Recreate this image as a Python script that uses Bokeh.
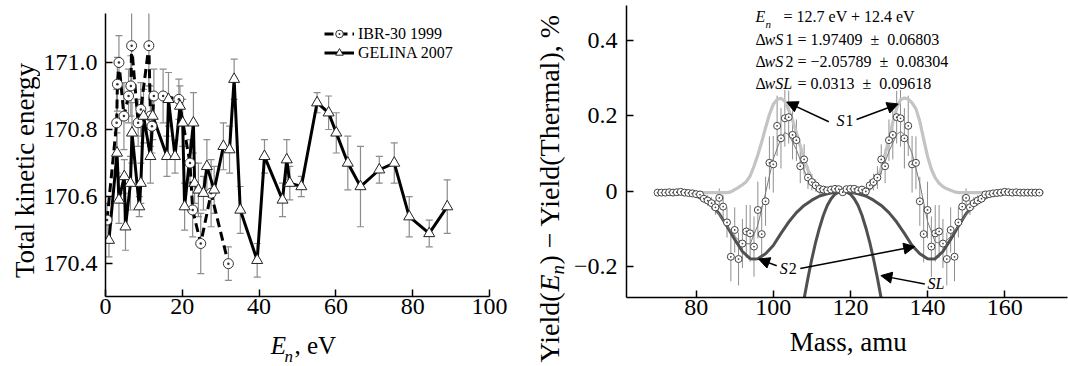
import math
from bokeh.plotting import figure
from bokeh.layouts import row, column
from bokeh.models import (Range1d, FixedTicker, NumeralTickFormatter, Label, Arrow,
                          NormalHead, Legend, LegendItem)
from bokeh.embed import file_html
from bokeh.resources import INLINE

SERIF = "Liberation Serif"

# ---------------- left panel data ----------------
ibr_e = [0.4, 2.9, 3.1, 3.5, 4.8, 6.0, 6.6, 6.8, 8.5, 9.2, 11.3, 11.7, 12.1, 12.6,
         15.0, 19.1, 22.0, 22.7, 24.8, 27.5, 32.0]
ibr_tke = [170.53, 170.82, 170.935, 171.00, 170.84, 170.90, 170.93, 171.05, 170.82, 170.86,
           171.05, 170.84, 170.81, 170.90, 170.90, 170.89, 170.70, 170.56, 170.46, 170.61, 170.40]
ibr_err = [0.05, 0.10, 0.08, 0.08, 0.10, 0.08, 0.09, 0.12, 0.07, 0.08, 0.12, 0.09, 0.08,
           0.08, 0.08, 0.06, 0.07, 0.08, 0.09, 0.10, 0.05]

gel_e = [0.9, 3.0, 3.5, 4.9, 5.2, 6.5, 6.9, 8.8, 9.2, 9.9, 11.7, 12.3, 16.0, 16.4, 18.1,
         19.4, 20.1, 20.6, 22.9, 23.2, 24.2, 25.5, 26.4, 28.3, 30.7, 32.3, 33.5, 35.1,
         39.5, 41.4, 46.1, 47.2, 48.0, 51.0, 55.1, 58.1, 60.1, 63.1, 66.4, 71.3, 75.2,
         79.1, 84.3, 89.0]
gel_tke = [170.47, 170.73, 170.59, 170.66, 170.51, 170.64, 170.79, 170.57, 170.64, 170.84,
           170.72, 170.84, 170.72, 170.89, 170.72, 170.87, 170.82, 170.57, 170.82, 170.64,
           170.62, 170.61, 170.69, 170.62, 170.75, 170.74, 170.95, 170.56, 170.41, 170.72,
           170.59, 170.71, 170.64, 170.63, 170.88, 170.85, 170.79, 170.70, 170.63, 170.68,
           170.70, 170.54, 170.49, 170.57]
gel_err = [0.05, 0.06, 0.07, 0.05, 0.07, 0.08, 0.09, 0.03, 0.06, 0.08, 0.08, 0.07, 0.06,
           0.08, 0.05, 0.06, 0.07, 0.07, 0.09, 0.06, 0.08, 0.05, 0.08, 0.07, 0.07, 0.07,
           0.06, 0.07, 0.05, 0.05, 0.05, 0.06, 0.05, 0.03, 0.03, 0.05, 0.06, 0.08, 0.12,
           0.04, 0.06, 0.06, 0.04, 0.08]

left_xticks = [0, 20, 40, 60, 80, 100]
left_yticks = [170.4, 170.6, 170.8, 171.0]

# ---------------- right panel data ----------------
mass = list(range(70, 170))
ydiff = [-0.004, -0.004, -0.004, -0.003, -0.004, -0.003, -0.002, -0.004, -0.005, -0.006,
         -0.008, -0.009, -0.020, -0.025, -0.032, -0.043, -0.018, -0.041, -0.083, -0.174,
         -0.103, -0.180, -0.139, -0.107, -0.112, -0.147, -0.050, -0.114, -0.027, 0.075,
         0.071, 0.173, 0.140, 0.193, 0.196, 0.149, 0.135, 0.066, 0.084, 0.036,
         0.024, 0.015, 0.006, 0.004, 0.002, 0.004, 0.006, 0.005, -0.003, 0.005,
         0.006, 0.006, 0.002, 0.004, -0.001, 0.015, 0.024, 0.036, 0.084, 0.066,
         0.135, 0.149, 0.196, 0.193, 0.140, 0.173, 0.071, 0.075, -0.027, -0.114,
         -0.050, -0.147, -0.112, -0.107, -0.139, -0.180, -0.103, -0.174, -0.083, -0.041,
         -0.018, -0.043, -0.032, -0.025, -0.020, -0.009, -0.008, -0.006, -0.005, -0.004,
         -0.002, -0.003, -0.004, -0.003, -0.004, -0.004, -0.004, -0.004, -0.004, -0.004]
yerr = [0.004, 0.004, 0.004, 0.004, 0.004, 0.005, 0.005, 0.005, 0.006, 0.006,
        0.008, 0.010, 0.012, 0.014, 0.016, 0.020, 0.025, 0.030, 0.040, 0.065,
        0.060, 0.070, 0.065, 0.070, 0.075, 0.080, 0.075, 0.075, 0.065, 0.070,
        0.075, 0.080, 0.080, 0.075, 0.070, 0.065, 0.055, 0.045, 0.040, 0.030,
        0.022, 0.016, 0.012, 0.010, 0.008, 0.008, 0.008, 0.008, 0.008, 0.008,
        0.008, 0.008, 0.008, 0.010, 0.012, 0.016, 0.022, 0.030, 0.040, 0.045,
        0.055, 0.065, 0.070, 0.075, 0.080, 0.080, 0.075, 0.070, 0.065, 0.075,
        0.075, 0.080, 0.075, 0.070, 0.065, 0.070, 0.060, 0.065, 0.040, 0.030,
        0.025, 0.020, 0.016, 0.014, 0.012, 0.010, 0.008, 0.006, 0.006, 0.005,
        0.005, 0.005, 0.004, 0.004, 0.004, 0.004, 0.004, 0.004, 0.004, 0.004]

s1_mass = [70, 75, 80, 85, 88, 89, 90, 91, 92, 93, 94, 95, 96, 97, 98, 99, 100, 101, 102,
           103, 104, 105, 106, 107, 108, 109, 110, 111, 112, 113, 114, 116, 118, 120, 122,
           123, 124, 125, 126, 127, 128, 129, 130, 131, 132, 133, 134, 135, 136, 137, 138,
           139, 140, 141, 142, 143, 144, 145, 146, 147, 148, 150, 155, 160, 165, 170]
s1_val = [-0.004, -0.004, -0.004, -0.004, -0.004, -0.002, 0.004, 0.010, 0.017, 0.025,
          0.040, 0.066, 0.096, 0.130, 0.168, 0.203, 0.230, 0.243, 0.246, 0.238, 0.215,
          0.188, 0.155, 0.120, 0.085, 0.056, 0.034, 0.017, 0.006, 0.001, 0.000, 0.000,
          0.000, 0.000, 0.000, 0.001, 0.003, 0.006, 0.013, 0.032, 0.062, 0.097, 0.140,
          0.183, 0.220, 0.242, 0.247, 0.244, 0.234, 0.218, 0.185, 0.138, 0.092, 0.058,
          0.035, 0.021, 0.012, 0.006, 0.002, -0.002, -0.004, -0.004, -0.004, -0.004,
          -0.004, -0.004]

s2_mass = [70, 72, 74, 76, 78, 80, 82, 84, 86, 88, 90, 92, 94, 95, 96, 98, 100, 102, 104,
           106, 108, 110, 112, 114, 116, 118, 120, 122, 124, 126, 128, 130, 132, 134, 136,
           138, 140, 141, 142, 144, 146, 148, 150, 152, 154, 156, 158, 160, 162, 164, 166,
           168, 170]
s2_val = [-0.003, -0.003, -0.004, -0.005, -0.007, -0.013, -0.023, -0.037, -0.060, -0.093,
          -0.128, -0.160, -0.179, -0.180, -0.179, -0.166, -0.144, -0.112, -0.082, -0.057,
          -0.038, -0.024, -0.013, -0.007, -0.003, -0.002, -0.003, -0.007, -0.013, -0.024,
          -0.038, -0.057, -0.082, -0.112, -0.144, -0.166, -0.179, -0.180, -0.179, -0.160,
          -0.128, -0.093, -0.060, -0.037, -0.023, -0.013, -0.007, -0.005, -0.004, -0.003,
          -0.003, -0.003, -0.003]

sl_mass = [107, 108, 109, 110, 111, 112, 113, 114, 115, 116, 117, 118, 119, 120, 121, 122,
           123, 124, 125, 126, 127, 128, 129]
sl_val = [-0.340, -0.285, -0.230, -0.180, -0.135, -0.097, -0.064, -0.038, -0.020, -0.008,
          -0.002, 0.000, -0.002, -0.008, -0.020, -0.038, -0.064, -0.097, -0.135, -0.180,
          -0.230, -0.285, -0.340]

tot_mass = [70, 72, 74, 76, 78, 80, 82, 84, 86, 88, 90, 92, 94, 96, 98, 100, 102, 103, 104,
            106, 108, 110, 112, 114, 116, 118, 120, 122, 124, 126, 128, 130, 132, 133, 134,
            136, 138, 140, 142, 144, 146, 148, 150, 152, 154, 156, 158, 160, 162, 164, 166,
            168, 170]
tot_val = [-0.004, -0.004, -0.005, -0.006, -0.008, -0.015, -0.025, -0.040, -0.062, -0.092,
           -0.120, -0.138, -0.140, -0.090, -0.005, 0.085, 0.140, 0.155, 0.150, 0.110,
           0.055, 0.015, -0.005, -0.006, -0.003, -0.002, -0.003, -0.006, -0.005, 0.012,
           0.050, 0.105, 0.150, 0.158, 0.150, 0.100, 0.020, -0.080, -0.135, -0.140,
           -0.120, -0.092, -0.062, -0.040, -0.025, -0.015, -0.008, -0.006, -0.005, -0.004,
           -0.004, -0.004, -0.004]

right_xticks = [80, 100, 120, 140, 160]
right_yticks = [-0.2, 0, 0.2, 0.4]
right_ylabels = {-0.2: "\u22120.2", 0: "0", 0.2: "0.2", 0.4: "0.4"}

# annotation arrows (mass, yield): start -> end
arr_x0 = [114.4, 121.6, 100.9, 107.0, 139.3]
arr_y0 = [0.184, 0.190, -0.198, -0.205, -0.246]
arr_x1 = [103.5, 132.4, 96.2, 136.7, 127.9]
arr_y1 = [0.236, 0.231, -0.180, -0.147, -0.224]


def style_axis(ax, ticks):
    ax.ticker = FixedTicker(ticks=ticks)
    ax.minor_tick_line_color = None
    ax.major_tick_in = 7
    ax.major_tick_out = 0
    ax.major_tick_line_width = 1.5
    ax.major_tick_line_color = "black"
    ax.axis_line_width = 1.5
    ax.axis_line_color = "black"
    ax.major_label_text_font = SERIF
    ax.major_label_text_font_size = "24px"
    ax.major_label_text_color = "black"
    ax.axis_label = None


def lab(p, text, x, y, size, style="normal", angle=0.0, align="left",
        units="screen", x_offset=0):
    p.add_layout(Label(x=x, y=y, x_units=units, y_units=units, text=text, angle=angle,
                       text_font=SERIF, text_font_size=f"{size}px", text_font_style=style,
                       text_color="black", text_align=align, text_baseline="middle",
                       x_offset=x_offset))


def strip(w, h, left=0, right=0):
    # in a column the strip's frame is aligned with the plot above it, so the
    # x range spans only the aligned frame: data units equal strip pixels
    s = figure(width=w, height=h, x_range=Range1d(left, w - right), y_range=Range1d(0, h),
               output_backend="svg", toolbar_location=None, min_border=0)
    s.axis.visible = False
    s.grid.visible = False
    s.outline_line_color = None
    s.background_fill_color = "white"
    s.border_fill_color = "white"
    return s


# ================= left figure =================
p1 = figure(width=490, height=326, x_range=Range1d(0, 100), y_range=Range1d(170.302, 171.146),
            output_backend="svg", toolbar_location=None,
            min_border_left=63, min_border_right=41, min_border_top=13, min_border_bottom=30)
p1.grid.visible = False
p1.outline_line_color = None
p1.background_fill_color = "white"
p1.border_fill_color = "white"
style_axis(p1.xaxis[0], left_xticks)
style_axis(p1.yaxis[0], left_yticks)
p1.xaxis[0].major_label_standoff = 2
p1.yaxis[0].major_label_standoff = 8
p1.yaxis[0].formatter = NumeralTickFormatter(format="0.0")

EB = "#8c8c8c"
for ex, ev, ee in ((ibr_e, ibr_tke, ibr_err), (gel_e, gel_tke, gel_err)):
    lo = [v - e for v, e in zip(ev, ee)]
    hi = [v + e for v, e in zip(ev, ee)]
    p1.segment(x0=ex, y0=lo, x1=ex, y1=hi, line_color=EB, line_width=1.2)
    p1.scatter(x=ex + ex, y=lo + hi, marker="dash", size=7, line_color=EB, line_width=1.2)

ibr_line = p1.line(ibr_e, ibr_tke, line_color="black", line_width=3, line_dash="9 5")
gel_line = p1.line(gel_e, gel_tke, line_color="black", line_width=3)
ibr_pts = p1.scatter(ibr_e, ibr_tke, marker="circle_dot", size=10, fill_color="white",
                     line_color="#333333", line_width=1)
gel_pts = p1.scatter(gel_e, gel_tke, marker="triangle", size=11, fill_color="white",
                     line_color="#222222", line_width=1)

legend = Legend(items=[LegendItem(label="IBR-30 1999", renderers=[ibr_line, ibr_pts]),
                       LegendItem(label="GELINA 2007", renderers=[gel_line, gel_pts])],
                location=(219, 234))
legend.label_text_font = SERIF
legend.label_text_font_size = "16px"
legend.label_text_color = "black"
legend.glyph_width = 30
legend.glyph_height = 19
legend.label_height = 19
legend.label_standoff = 4
legend.spacing = 0
legend.padding = 0
legend.margin = 0
legend.background_fill_alpha = 0
legend.border_line_color = None
p1.add_layout(legend)

# title strips for the left panel (coordinates = pixels inside the strip)
ylab1 = strip(40, 366)
lab(ylab1, "Total kinetic energy", 24.5, 196, 27, angle=math.pi / 2, align="center", units="data")
xlab1 = strip(490, 40, left=63, right=41)
lab(xlab1, "E", 229, 21.5, 25, style="italic", units="data")
lab(xlab1, "n", 243, 10, 17, style="italic", units="data")
lab(xlab1, ", eV", 253, 21.5, 25, units="data")

# ================= right figure =================
p2 = figure(width=498, height=326, x_range=Range1d(61.94, 176.3), y_range=Range1d(-0.282, 0.492),
            output_backend="svg", toolbar_location=None,
            min_border_left=54, min_border_right=1, min_border_top=5, min_border_bottom=29)
p2.grid.visible = False
p2.outline_line_color = None
p2.background_fill_color = "white"
p2.border_fill_color = "white"
style_axis(p2.xaxis[0], right_xticks)
style_axis(p2.yaxis[0], right_yticks)
p2.xaxis[0].major_label_standoff = 2
p2.yaxis[0].major_label_standoff = 9
p2.yaxis[0].major_label_overrides = right_ylabels

lo2 = [v - e for v, e in zip(ydiff, yerr)]
hi2 = [v + e for v, e in zip(ydiff, yerr)]
p2.segment(x0=mass, y0=lo2, x1=mass, y1=hi2, line_color="#8f8f8f", line_width=1)
p2.line(s1_mass, s1_val, line_color="#c4c4c4", line_width=3.2)
p2.line(s2_mass, s2_val, line_color="#505050", line_width=3)
p2.line(sl_mass, sl_val, line_color="#505050", line_width=3)
p2.line(tot_mass, tot_val, line_color="#7a7a7a", line_width=1)
p2.scatter(mass, ydiff, marker="circle_dot", size=7, fill_color="white",
           line_color="#444444", line_width=1)

for xs, ys, xe, ye in zip(arr_x0, arr_y0, arr_x1, arr_y1):
    p2.add_layout(Arrow(x_start=xs, y_start=ys, x_end=xe, y_end=ye, line_color="black",
                        line_width=1.5,
                        end=NormalHead(size=11, fill_color="black", line_color="black")))

lab(p2, "S", 116.4, 0.188, 16, style="italic", units="data")
lab(p2, "1", 116.4, 0.188, 16, units="data", x_offset=9)
lab(p2, "S", 101.7, -0.204, 16, style="italic", units="data")
lab(p2, "2", 101.7, -0.204, 16, units="data", x_offset=9)
lab(p2, "SL", 140.0, -0.2445, 16, style="italic", units="data")

# fit results text block (frame-relative screen coordinates)
lab(p2, "E", 129, 281.5, 16, style="italic")
lab(p2, "n", 139, 274, 11, style="italic")
lab(p2, "= 12.7 eV + 12.4 eV", 157, 281.5, 16)
rows = [("wS", "1 = 1.97409 \u00a0\u00b1\u00a0 0.06803", 159, 258.5),
        ("wS", "2 = \u22122.05789 \u00a0\u00b1\u00a0 0.08304", 159, 236.5),
        ("wSL", "= 0.0313 \u00a0\u00b1\u00a0 0.09618", 171, 214.5)]
for it, rest, rx, by in rows:
    lab(p2, "\u0394", 129, by, 16)
    lab(p2, it, 138, by, 16, style="italic")
    lab(p2, rest, rx, by, 16)

# title strips for the right panel
ylab2 = strip(40, 366)
lab(ylab2, "Yield(", 18.5, 4, 28, angle=math.pi / 2, units="data")
lab(ylab2, "E", 18.5, 75, 28, angle=math.pi / 2, style="italic", units="data")
lab(ylab2, "n", 27, 92, 19, angle=math.pi / 2, style="italic", units="data")
lab(ylab2, ") \u2212 Yield(Thermal), %", 18.5, 102, 28, angle=math.pi / 2, units="data")
xlab2 = strip(498, 40, left=54, right=1)
lab(xlab2, "Mass, amu", 218, 24.5, 27, units="data")

layout = row(ylab1, column(p1, xlab1), ylab2, column(p2, xlab2))
open("out.html", "w").write(file_html(layout, INLINE))
